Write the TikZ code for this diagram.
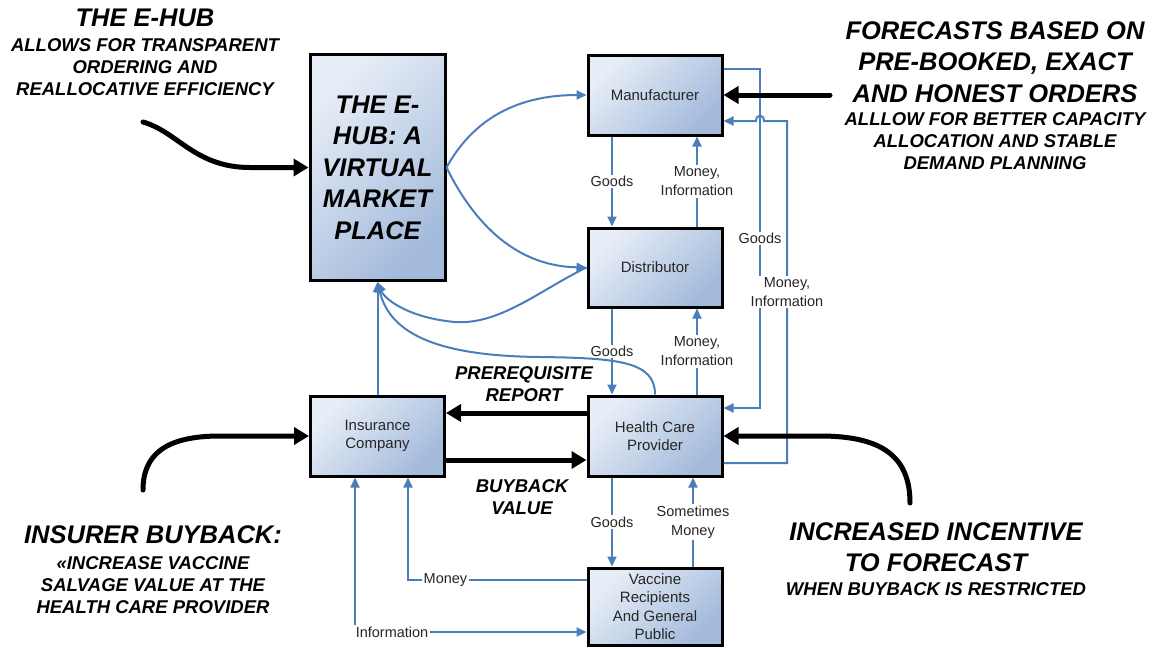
\documentclass[tikz,border=0pt]{standalone}
\usepackage{fontspec}
\setmainfont{Liberation Sans}
\usetikzlibrary{arrows.meta,calc}
\definecolor{flow}{HTML}{4A7EBB}
\definecolor{boxtop}{HTML}{E8EEF7}
\definecolor{boxbot}{HTML}{A3BADB}
\begin{document}
\begin{tikzpicture}[x=1pt,y=-1pt,
  box/.style={draw=black, line width=3pt, shading=axis, top color=boxtop, bottom color=boxbot, shading angle=45,
    minimum width=134pt, minimum height=80pt, inner sep=0pt, align=center,
    font=\fontsize{15}{18.5}\selectfont, text=black!85},
  flowline/.style={draw=flow, line width=2pt},
  fa/.style={flowline, -{Triangle[length=10pt,width=9pt]}},
  fab/.style={flowline, {Triangle[length=10pt,width=9pt]}-{Triangle[length=10pt,width=9pt]}},
  lbl/.style={fill=white, inner sep=1.5pt, align=center, font=\fontsize{14.5}{19}\selectfont, text=black!85},
  big/.style={font=\fontsize{25.5}{31.5}\selectfont\bfseries\itshape, align=center, inner sep=0pt},
  small/.style={font=\fontsize{18.5}{22}\selectfont\bfseries\itshape, align=center, inner sep=0pt},
  heavy/.style={draw=black, line width=5pt, line cap=round, -{Triangle[length=15pt,width=17pt]}}
]
\useasboundingbox (0,0) rectangle (1159,648);

% boxes
\node[box, minimum width=135pt, minimum height=226pt, font=\fontsize{25.5}{31.5}\selectfont\bfseries\itshape, text=black] (hub) at (377.5,167.5)
  {THE E-\\HUB: A\\VIRTUAL\\MARKET\\PLACE};
\node[box] (man) at (655,95) {Manufacturer};
\node[box, minimum height=79pt] (dis) at (655,267.5) {Distributor};
\node[box] (ins) at (377.5,436) {Insurance\\Company};
\node[box] (hcp) at (655,436) {Health Care\\Provider};
\node[box, minimum height=77pt] (vac) at (655,606.5) {Vaccine\\Recipients\\And General\\Public};

% helper coordinates
\coordinate (gx) at (612,0);
\coordinate (mx) at (697,0);
\coordinate (smx) at (693,0);
\coordinate (hx) at (655,0);
\coordinate (c1) at (760,69);
\coordinate (c2) at (760,408);
\coordinate (c3) at (787,463);
\coordinate (c4) at (787,121);
\coordinate (j1) at (764,121);
\coordinate (j2) at (756,121);
\coordinate (m1) at (408,580);
\coordinate (i1) at (355,632);
\coordinate (ar1) at (143,122);
\coordinate (ar2) at (143,490);
\coordinate (ar3) at (830,95);
\coordinate (ar4) at (910,503);

% vertical flows
\draw[fa] (man.south -| gx) -- node[lbl]{Goods} (dis.north -| gx);
\draw[fa] (dis.north -| mx) -- node[lbl]{Money,\\Information} (man.south -| mx);
\draw[fa] (dis.south -| gx) -- node[lbl]{Goods} (hcp.north -| gx);
\draw[fa] (hcp.north -| mx) -- node[lbl]{Money,\\Information} (dis.south -| mx);
\draw[fa] (hcp.south -| gx) -- node[lbl]{Goods} (vac.north -| gx);
\draw[fa] (vac.north -| smx) -- node[lbl]{Sometimes\\Money} (hcp.south -| smx);

% right side loops
\draw[fa] (man.east |- c1) -- (c1) -- node[lbl]{Goods} (c2) -- (hcp.east |- c2);
\draw[fa] (hcp.east |- c3) -- (c3) -- node[lbl]{Money,\\Information} (c4) -- (j1)
  .. controls +(0,-7) and +(0,-7) .. (j2) -- (man.east |- c4);

% hub connections
\draw[fa] (hub.east) .. controls (470,125) and (510,95) .. (man.west);
\draw[fa] (hub.east) .. controls (470,215) and (510,266) .. (dis.west);
\draw[fa] (dis.west) .. controls (540,290) and (500,325) .. (455,322) .. controls (410,318) and (385,300) .. (hub.south);
\draw[fa] (hcp.north -| hx) .. controls (655,362) and (620,358) .. (540,357) .. controls (440,356) and (390,335) .. (hub.south);
\draw[fa] (ins.north) -- (hub.south);

% bottom flows
\draw[fa] (vac.west |- m1) -- node[lbl,pos=0.79]{Money} (m1) -- (ins.south -| m1);
\draw[fab] (ins.south -| i1) -- (i1) -- node[lbl,pos=0.16]{Information} (vac.west |- i1);

% heavy arrows
\draw[heavy] ([yshift=23pt]hcp.west) -- ([yshift=23pt]ins.east);
\draw[heavy] ([yshift=-24pt]ins.east) -- ([yshift=-24pt]hcp.west);
\draw[heavy] (ar1) .. controls (178,132) and (195,167.5) .. (250,167.5) -- (hub.west);
\draw[heavy] (ar2) .. controls (143,455) and (165,436) .. (220,436) -- (ins.west);
\draw[heavy] (ar3) -- (man.east);
\draw[heavy] (ar4) .. controls (910,455) and (880,436) .. (820,436) -- (hcp.east);

% texts
\node[big] (t1) at (145,18) {THE E-HUB};
\node[small] (t1s) at (145,67) {ALLOWS FOR TRANSPARENT\\ORDERING AND\\REALLOCATIVE EFFICIENCY};
\node[big] (t2) at (995,62) {FORECASTS BASED ON\\PRE-BOOKED, EXACT\\AND HONEST ORDERS};
\node[small] (t2s) at (995,141) {ALLLOW FOR BETTER CAPACITY\\ALLOCATION AND STABLE\\DEMAND PLANNING};
\node[big] (t3) at (153,535) {INSURER BUYBACK:};
\node[small] (t3s) at (153,585) {«INCREASE VACCINE\\SALVAGE VALUE AT THE\\HEALTH CARE PROVIDER};
\node[big] (t4) at (936,547) {INCREASED INCENTIVE\\TO FORECAST};
\node[small] (t4s) at (936,589) {WHEN BUYBACK IS RESTRICTED};
\node[small] (t5) at (524,384) {PREREQUISITE\\REPORT};
\node[small] (t6) at (522,497) {BUYBACK\\VALUE};
\end{tikzpicture}
\end{document}
